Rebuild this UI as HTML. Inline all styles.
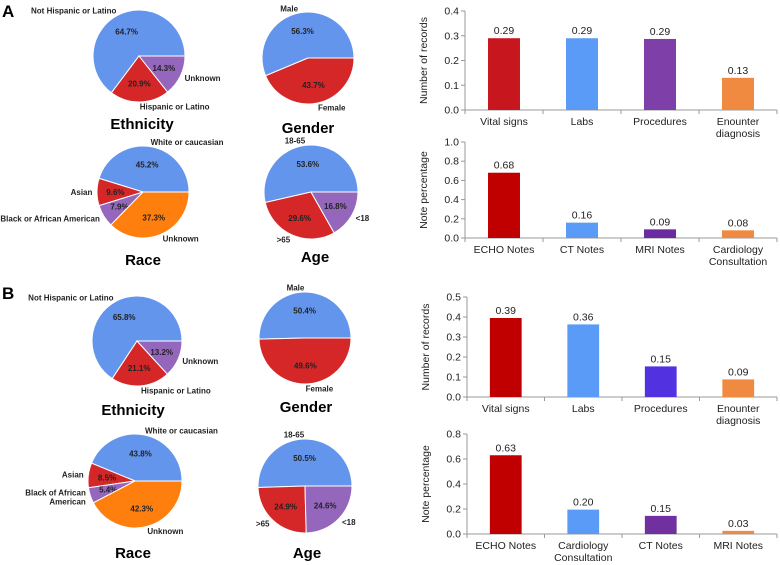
<!DOCTYPE html>
<html><head><meta charset="utf-8">
<style>
body{margin:0;background:#fff;}
svg{display:block;font-family:"Liberation Sans",Arial,sans-serif;}
</style></head>
<body>
<svg id="fig" width="780" height="565" viewBox="0 0 780 565" xmlns="http://www.w3.org/2000/svg">
<text x="2" y="17" font-size="17" font-weight="bold">A</text>
<text x="2" y="299" font-size="17" font-weight="bold">B</text>
</svg>
<script>
// ---- pie data ----
const ethA = [64.7, 20.9, 14.3];
const ethLabels = ["Not Hispanic or Latino", "Hispanic or Latino", "Unknown"];
const genA = [56.3, 43.7];
const genLabels = ["Male", "Female"];
const raceA = [45.2, 9.6, 7.9, 37.3];
const raceLabelsA = ["White or caucasian", "Asian", "Black or African American", "Unknown"];
const ageA = [53.6, 29.6, 16.8];
const ageLabels = ["18-65", ">65", "<18"];
const ethB = [65.8, 21.1, 13.2];
const genB = [50.4, 49.6];
const raceB = [43.8, 8.5, 5.4, 42.3];
const raceLabelsB = ["White or caucasian", "Asian", "Black of African|American", "Unknown"];
const ageB = [50.5, 24.9, 24.6];

// ---- bar data ----
const catA1 = ["Vital signs", "Labs", "Procedures", "Enounter|diagnosis"];
const valA1 = [0.29, 0.29, 0.287, 0.13];
const txtA1 = ["0.29", "0.29", "0.29", "0.13"];
const ticksA1 = [0, 0.1, 0.2, 0.3, 0.4];
const catA2 = ["ECHO Notes", "CT Notes", "MRI Notes", "Cardiology|Consultation"];
const valA2 = [0.68, 0.16, 0.09, 0.08];
const txtA2 = ["0.68", "0.16", "0.09", "0.08"];
const ticksA2 = [0, 0.2, 0.4, 0.6, 0.8, 1.0];
const catB1 = ["Vital signs", "Labs", "Procedures", "Enounter|diagnosis"];
const valB1 = [0.395, 0.363, 0.153, 0.088];
const txtB1 = ["0.39", "0.36", "0.15", "0.09"];
const ticksB1 = [0, 0.1, 0.2, 0.3, 0.4, 0.5];
const catB2 = ["ECHO Notes", "Cardiology|Consultation", "CT Notes", "MRI Notes"];
const valB2 = [0.63, 0.195, 0.145, 0.025];
const txtB2 = ["0.63", "0.20", "0.15", "0.03"];
const ticksB2 = [0, 0.2, 0.4, 0.6, 0.8];

const NS = "http://www.w3.org/2000/svg";
const svg = document.getElementById("fig");
const pieColors = ["#6495ED", "#D62728", "#9467BD", "#FF7F0E"];
function mk(tag, attrs, parent) {
  const e = document.createElementNS(NS, tag);
  for (const k in attrs) e.setAttribute(k, attrs[k]);
  (parent || svg).appendChild(e);
  return e;
}
function multiText(g, x, y, str, size, anchor, weight) {
  const lines = str.split("|");
  const t = mk("text", {x: x, y: y, "font-size": size, "text-anchor": anchor, "font-weight": weight || "normal"}, g);
  lines.forEach((ln, i) => {
    const s = mk("tspan", {x: x, dy: i === 0 ? 0 : size * 1.15}, t);
    s.textContent = ln;
  });
  return t;
}
function pie(name, cx, cy, r, vals, labels, colors, title, tx, ty) {
  const g = mk("g", {});
  
  
  const total = vals.reduce((a, b) => a + b, 0);
  let a0 = 0;
  vals.forEach((v, i) => {
    const a1 = a0 + v / total * 2 * Math.PI;
    const x0 = cx + r * Math.cos(a0), y0 = cy - r * Math.sin(a0);
    const x1 = cx + r * Math.cos(a1), y1 = cy - r * Math.sin(a1);
    const large = (a1 - a0) > Math.PI ? 1 : 0;
    const p = mk("path", {d: `M${cx},${cy} L${x0},${y0} A${r},${r} 0 ${large} 0 ${x1},${y1} Z`, fill: colors[i], stroke: "#fff", "stroke-width": 1}, g);
    
    
    const am = (a0 + a1) / 2;
    const px = cx + 0.6 * r * Math.cos(am), py = cy - 0.6 * r * Math.sin(am);
    const pt = mk("text", {x: px, y: py + 3, "font-size": 8, "font-weight": "bold", "text-anchor": "middle", fill: "#222"}, g);
    pt.textContent = v.toFixed(1) + "%";
    
    
    const lx = cx + 1.1 * r * Math.cos(am), ly = cy - 1.1 * r * Math.sin(am);
    const nl = labels[i].split("|").length;
    const lt = multiText(g, lx, ly + 3 - (nl - 1) * 4.6, labels[i], 8, Math.cos(am) >= 0 ? "start" : "end", "bold");
    lt.setAttribute('fill', '#222');
    
    
    a0 = a1;
  });
  const tt = mk("text", {x: tx, y: ty + 5, "font-size": 15, "font-weight": "bold", "text-anchor": "middle"}, g);
  tt.textContent = title;
  
  
}
pie("ethnicity-pie-a", 139, 56, 46, ethA, ethLabels, pieColors, "Ethnicity", 142, 124);
pie("gender-pie-a", 308, 58, 46, genA, genLabels, pieColors, "Gender", 308, 128);
pie("race-pie-a", 143, 192, 46, raceA, raceLabelsA, pieColors, "Race", 143, 260);
pie("age-pie-a", 311, 192, 47, ageA, ageLabels, pieColors, "Age", 315, 257);
pie("ethnicity-pie-b", 137, 341, 45, ethB, ethLabels, pieColors, "Ethnicity", 133, 410);
pie("gender-pie-b", 305, 338, 46, genB, genLabels, pieColors, "Gender", 306, 407);
pie("race-pie-b", 135, 481, 47, raceB, raceLabelsB, pieColors, "Race", 133, 553);
pie("age-pie-b", 305, 486, 47, ageB, ageLabels, pieColors, "Age", 307, 553);

function bar(name, x0, x1, yTop, yBot, ymax, cats, vals, txts, ticks, colors, ytitle, tickDec) {
  const g = mk("g", {});
  
  
  const ys = v => yBot - v / ymax * (yBot - yTop);
  const step = (x1 - x0) / cats.length;
  const ax = "#999";
  mk("line", {x1: x0, y1: yTop, x2: x0, y2: yBot, stroke: ax, "stroke-width": 1}, g);
  mk("line", {x1: x0, y1: yBot, x2: x1, y2: yBot, stroke: ax, "stroke-width": 1}, g);
  ticks.forEach(t => {
    const y = ys(t);
    mk("line", {x1: x0 - 4, y1: y, x2: x0, y2: y, stroke: ax}, g);
    const tl = mk("text", {x: x0 - 6, y: y + 3.5, "font-size": 10.5, "text-anchor": "end", fill: "#222"}, g);
    tl.textContent = t.toFixed(tickDec);
    
    
  });
  for (let i = 0; i <= cats.length; i++) {
    mk("line", {x1: x0 + i * step, y1: yBot, x2: x0 + i * step, y2: yBot + 4, stroke: ax}, g);
  }
  const bw = step * 0.41;
  cats.forEach((c, i) => {
    const cx = x0 + step * (i + 0.5);
    const r = mk("rect", {x: cx - bw / 2, y: ys(vals[i]), width: bw, height: yBot - ys(vals[i]), fill: colors[i]}, g);
    
    
    const vt = mk("text", {x: cx, y: ys(vals[i]) - 4, "font-size": 10.5, "text-anchor": "middle", fill: "#222"}, g);
    vt.textContent = txts[i];
    
    
    const ct = multiText(g, cx, yBot + 15, c, 10.5, "middle");
    ct.setAttribute('fill', '#222');
    
    
  });
  const ym = (yTop + yBot) / 2;
  const at = mk("text", {x: x0 - 38, y: ym, "font-size": 10.5, "text-anchor": "middle", transform: `rotate(-90 ${x0 - 38} ${ym})`, fill: "#222"}, g);
  at.textContent = ytitle;
  
  
}
bar("records-bar-a", 465, 777, 11, 110, 0.4, catA1, valA1, txtA1, ticksA1, ["#C8161E", "#5B9BF8", "#7E3FA8", "#F08A40"], "Number of records", 1);
bar("notes-bar-a", 465, 777, 142, 238, 1.0, catA2, valA2, txtA2, ticksA2, ["#C00000", "#5B9BF8", "#6A2AA0", "#F08A40"], "Note percentage", 1);
bar("records-bar-b", 467, 777, 297, 397, 0.5, catB1, valB1, txtB1, ticksB1, ["#C00000", "#5B9BF8", "#5232E0", "#F08A40"], "Number of records", 1);
bar("notes-bar-b", 467, 777, 434, 534, 0.8, catB2, valB2, txtB2, ticksB2, ["#C00000", "#5B9BF8", "#7030A0", "#F08A40"], "Note percentage", 1);
</script>
</body></html>
